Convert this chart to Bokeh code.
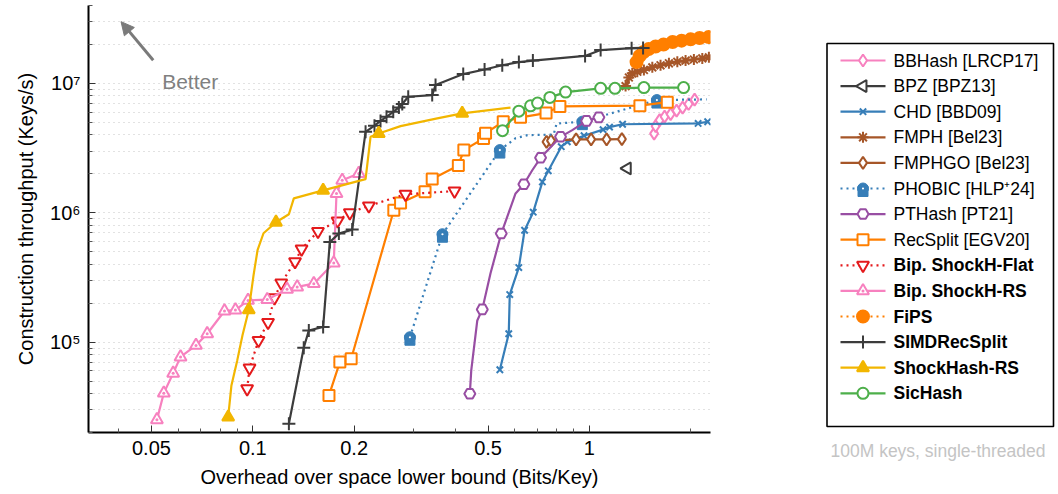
from bokeh.plotting import figure
from bokeh.models import (Range1d, FixedTicker, CustomJSTickFormatter, Arrow,
                          NormalHead, Label, Title)
from bokeh.layouts import row
from bokeh.embed import file_html
from bokeh.resources import INLINE
from bokeh.core.properties import value

FONT = "Liberation Sans"

# ---------------------------------------------------------------------------
# Overhead over space lower bound (bits/key) vs construction throughput (keys/s)
# ---------------------------------------------------------------------------
bbhash_x = [1.557, 1.573, 1.617, 1.673, 1.743, 1.816, 1.892, 1.971, 2.054]
bbhash_y = [4.09e6, 4.67e6, 5.2e6, 5.53e6, 5.79e6, 6.16e6, 6.5e6, 6.92e6, 7.49e6]

bpz_x = [1.296]
bpz_y = [2.2e6]

chd_x = [0.542, 0.576, 0.580, 0.617, 0.642, 0.681, 0.725, 0.755, 0.825, 0.860,
         0.964, 1.098, 1.148, 1.255, 2.104, 2.246]
chd_y = [6.11e4, 1.16e5, 2.33e5, 3.77e5, 7.32e5, 1.01e6, 1.73e6, 2.11e6, 3.24e6,
         3.53e6, 3.94e6, 4.39e6, 4.59e6, 4.83e6, 4.90e6, 5.05e6]

fmph_x = [1.281, 1.31, 1.341, 1.388, 1.452, 1.538, 1.627, 1.723, 1.825, 1.931,
          2.044, 2.165, 2.265]
fmph_y = [9.53e6, 1.11e7, 1.195e7, 1.23e7, 1.27e7, 1.33e7, 1.38e7, 1.43e7,
          1.47e7, 1.50e7, 1.53e7, 1.56e7, 1.59e7]

fmphgo_x = [0.746, 0.769, 0.913, 1.012, 1.125, 1.249]
fmphgo_y = [3.53e6, 3.61e6, 3.69e6, 3.69e6, 3.69e6, 3.71e6]

phobic_x = [0.293, 0.366, 0.542, 0.604, 0.655, 0.783, 0.799, 0.953, 1.353, 1.587, 2.23]
phobic_y = [1.09e5, 6.82e5, 3.05e6, 3.77e6, 3.98e6, 4.02e6, 4.89e6, 5.06e6,
            6.59e6, 7.43e6, 7.52e6]
phobic_marked = [0, 1, 2, 7, 9]

pthash_x = [0.4414, 0.4457, 0.4645, 0.4806, 0.5085, 0.5472, 0.570, 0.6035,
            0.6388, 0.6766, 0.7161, 0.8209, 0.8896, 0.981, 1.067]
pthash_y = [3.99e4, 6.04e4, 1.47e5, 1.79e5, 3.4e5, 6.9e5, 9.28e5, 1.41e6,
            1.66e6, 2.13e6, 2.66e6, 3.86e6, 4.35e6, 5.13e6, 5.46e6]
pthash_marked = [0, 3, 5, 8, 10, 11, 13, 14]

recsplit_x = [0.1684, 0.1814, 0.196, 0.2624, 0.2748, 0.3249, 0.3412, 0.408,
              0.4237, 0.4848, 0.4915, 0.5547, 0.6245, 0.7435, 0.8173, 1.413, 1.704]
recsplit_y = [3.87e4, 7.0e4, 7.44e4, 1.046e6, 1.19e6, 1.45e6, 1.82e6, 2.32e6,
              3.05e6, 3.75e6, 4.12e6, 5.05e6, 5.46e6, 5.89e6, 6.64e6, 6.73e6, 7.16e6]

bip_flat_x = [0.0962, 0.0978, 0.104, 0.111, 0.116, 0.1215, 0.1335, 0.1396,
              0.1562, 0.1786, 0.1942, 0.2212, 0.2843, 0.3975]
bip_flat_y = [4.36e4, 6.31e4, 1.03e5, 1.42e5, 2.20e5, 2.86e5, 4.19e5, 5.24e5,
              7.17e5, 8.64e5, 1.0e6, 1.13e6, 1.39e6, 1.47e6]

bip_rs_x = [0.0519, 0.0544, 0.058, 0.061, 0.0678, 0.0732, 0.0824, 0.0888,
            0.0968, 0.1104, 0.1264, 0.1355, 0.1518, 0.174, 0.1773, 0.1844, 0.2065]
bip_rs_y = [2.51e4, 4.03e4, 5.75e4, 7.68e4, 9.43e4, 1.16e5, 1.74e5, 1.77e5,
            2.10e5, 2.13e5, 2.56e5, 2.67e5, 2.83e5, 4.09e5, 1.41e6, 1.78e6, 2.01e6]

fips_x = [1.381, 1.410, 1.449, 1.50, 1.573, 1.661, 1.767, 1.879, 1.999, 2.126, 2.261]
fips_y = [1.46e7, 1.63e7, 1.75e7, 1.84e7, 1.93e7, 2.0e7, 2.09e7, 2.14e7,
          2.19e7, 2.24e7, 2.28e7]

simd_x = [0.128, 0.1417, 0.1467, 0.1618, 0.1694, 0.1802, 0.1974, 0.2163, 0.2299,
          0.2396, 0.2496, 0.2614, 0.2716, 0.278, 0.2896, 0.3412, 0.3491, 0.4219,
          0.4882, 0.551, 0.6173, 0.6794, 0.971, 1.08, 1.335, 1.444]
simd_y = [2.34e4, 9.05e4, 1.23e5, 1.31e5, 5.94e5, 6.9e5, 7.41e5, 4.22e6, 4.71e6,
          5.13e6, 5.51e6, 6.03e6, 6.52e6, 6.92e6, 7.88e6, 8.12e6, 9.7e6, 1.18e7,
          1.28e7, 1.38e7, 1.46e7, 1.50e7, 1.63e7, 1.81e7, 1.87e7, 1.88e7]

shockhash_rs_x = [0.0845, 0.0864, 0.0899, 0.0932, 0.0973, 0.1005, 0.1033, 0.1076,
                  0.1172, 0.128, 0.1324, 0.1618, 0.2163, 0.2238, 0.2367, 0.2748,
                  0.3532, 0.419, 0.583]
shockhash_rs_y = [2.63e4, 4.62e4, 7.22e4, 1.13e5, 1.78e5, 3.28e5, 5.13e5, 6.94e5,
                  8.44e5, 9.73e5, 1.29e6, 1.49e6, 1.82e6, 3.86e6, 4.10e6, 4.67e6,
                  5.36e6, 5.86e6, 6.5e6]
shockhash_rs_marked = [0, 4, 8, 11, 14, 17]

sichash_x = [0.552, 0.6173, 0.6687, 0.7016, 0.7633, 0.8498, 1.08, 1.191, 1.452, 1.905]
sichash_y = [4.31e6, 6.1e6, 6.71e6, 7.04e6, 7.79e6, 8.56e6, 9.15e6, 9.15e6, 9.28e6, 9.28e6]

x_ticks = [0.05, 0.1, 0.2, 0.5, 1]
x_minor = [0.04, 0.06, 0.07, 0.08, 0.09, 0.3, 0.4, 0.6, 0.7, 0.8, 0.9, 2]
y_ticks = [1e5, 1e6, 1e7]
y_minor = [m * 10 ** k for k in (4, 5, 6) for m in range(2, 10) if m * 10 ** k > 1.5e4] + [2e7, 3e7, 4e7]

# colours
PINK = "#f781bf"
GREY = "#3c3c3c"
BLUE = "#377eb8"
BROWN = "#a65628"
PURPLE = "#984ea3"
ORANGE = "#ff7f00"
RED = "#e41a1c"
GOLD = "#f2b600"
GREEN = "#4daf4a"

# series style table: label, colour, marker, dash, size, fill, bold, angle
styles = {
    "bbhash":   ("BBHash [LRCP17]", PINK, "diamond", "solid", 12, "white", False, 0.0),
    "bpz":      ("BPZ [BPZ13]", GREY, "triangle", "solid", 12, "white", False, 1.5708),
    "chd":      ("CHD [BBD09]", BLUE, "x", "solid", 9, "white", False, 0.0),
    "fmph":     ("FMPH [Bel23]", BROWN, "asterisk", "solid", 11, "white", False, 0.0),
    "fmphgo":   ("FMPHGO [Bel23]", BROWN, "diamond", "solid", 12, "white", False, 0.0),
    "phobic":   ("PHOBIC [HLP\u207a24]", BLUE, "ghost", "dotted", 11, BLUE, False, 0.0),
    "pthash":   ("PTHash [PT21]", PURPLE, "hex", "solid", 11, "white", False, 0.0),
    "recsplit": ("RecSplit [EGV20]", ORANGE, "square", "solid", 11, "white", False, 0.0),
    "bipflat":  ("Bip. ShockH-Flat", RED, "inverted_triangle", "dotted", 12, "white", True, 0.0),
    "biprs":    ("Bip. ShockH-RS", PINK, "triangle_dot", "solid", 12, "white", True, 0.0),
    "fips":     ("FiPS", ORANGE, "circle", "dotted", 12, ORANGE, True, 0.0),
    "simd":     ("SIMDRecSplit", GREY, "cross", "solid", 13, "white", True, 0.0),
    "shrs":     ("ShockHash-RS", GOLD, "triangle", "solid", 12, GOLD, True, 0.0),
    "sichash":  ("SicHash", GREEN, "circle", "solid", 11, "white", True, 0.0),
}

series = [
    ("bbhash", bbhash_x, bbhash_y, None),
    ("bpz", bpz_x, bpz_y, None),
    ("chd", chd_x, chd_y, None),
    ("fmph", fmph_x, fmph_y, None),
    ("fmphgo", fmphgo_x, fmphgo_y, None),
    ("phobic", phobic_x, phobic_y, phobic_marked),
    ("pthash", pthash_x, pthash_y, pthash_marked),
    ("recsplit", recsplit_x, recsplit_y, None),
    ("bipflat", bip_flat_x, bip_flat_y, None),
    ("biprs", bip_rs_x, bip_rs_y, None),
    ("fips", fips_x, fips_y, None),
    ("simd", simd_x, simd_y, None),
    ("shrs", shockhash_rs_x, shockhash_rs_y, shockhash_rs_marked),
    ("sichash", sichash_x, sichash_y, None),
]

# page geometry shared by both panels
TOP, BOTTOM = 5, 62
HEIGHT = 494
Y_DECADE_PX = 129.2   # pixels per decade on the throughput axis


def draw_marker(fig, xs, ys, marker, size, color, fill, angle, log_y):
    """Scatter markers; 'ghost' is built from a dome (circle) over a body (square)."""
    if marker == "ghost":
        shift = 3.0
        if log_y:
            body_y = [y * 10 ** (-shift / Y_DECADE_PX) for y in ys]
        else:
            body_y = [y + shift for y in ys]
        fig.scatter(xs, ys, marker="circle", size=size, line_color=color,
                    fill_color=color, line_width=1)
        fig.scatter(xs, body_y, marker="square", size=size - 1, line_color=color,
                    fill_color=color, line_width=1)
        fig.scatter(xs, ys, marker="dot", size=size * 0.8, line_color="white",
                    fill_color="white")
    else:
        fig.scatter(xs, ys, marker=marker, size=size, line_color=color,
                    fill_color=fill, line_width=2, angle=angle)


# ---------------------------------------------------------------------------
# main plot
# ---------------------------------------------------------------------------
p = figure(width=740, height=HEIGHT, x_axis_type="log", y_axis_type="log",
           x_range=Range1d(0.0325, 2.29), y_range=Range1d(2e4, 4e7),
           output_backend="svg", toolbar_location=None,
           min_border_left=88, min_border_right=30, min_border_top=TOP,
           min_border_bottom=BOTTOM)
p.outline_line_color = None
p.background_fill_color = "white"
p.border_fill_color = "white"

p.xaxis.ticker = FixedTicker(ticks=x_ticks, minor_ticks=x_minor)
p.yaxis.ticker = FixedTicker(ticks=y_ticks, minor_ticks=y_minor)
p.xaxis.formatter = CustomJSTickFormatter(code="return String(tick);")
p.yaxis.formatter = CustomJSTickFormatter(code="""
const sup = ["\\u2070", "\\u00b9", "\\u00b2", "\\u00b3", "\\u2074",
             "\\u2075", "\\u2076", "\\u2077", "\\u2078", "\\u2079"];
const e = Math.round(Math.log10(tick));
return "10" + String(e).split("").map(c => sup[+c]).join("");
""")

p.xgrid.grid_line_color = None
p.ygrid.grid_line_color = "#c4c4c4"
p.ygrid.grid_line_dash = "1 4"
p.ygrid.minor_grid_line_color = "#c4c4c4"
p.ygrid.minor_grid_line_dash = "1 4"

for ax in (p.xaxis[0], p.yaxis[0]):
    ax.axis_line_width = 2
    ax.axis_line_color = "black"
    ax.major_tick_in = 7
    ax.major_tick_out = 0
    ax.minor_tick_in = 4
    ax.minor_tick_out = 0
    ax.major_tick_line_color = "#333333"
    ax.minor_tick_line_color = "#555555"
    ax.major_label_text_font = FONT
    ax.major_label_text_font_size = "20px"
    ax.major_label_text_color = "black"
    ax.axis_label_text_font = FONT
    ax.axis_label_text_font_size = "20px"
    ax.axis_label_text_font_style = "normal"
    ax.axis_label_text_color = "black"

p.xaxis.axis_label = "Overhead over space lower bound (Bits/Key)"
p.yaxis.axis_label = "Construction throughput (Keys/s)"
p.xaxis.major_label_standoff = 8
p.xaxis.axis_label_standoff = 8
p.yaxis.major_label_standoff = 8
p.yaxis.axis_label_standoff = 10

for key, xs, ys, marked in series:
    label, color, marker, dash, size, fill, bold, angle = styles[key]
    if len(xs) > 1:
        p.line(xs, ys, line_color=color, line_width=2.2, line_dash=dash)
    idx = range(len(xs)) if marked is None else marked
    draw_marker(p, [xs[i] for i in idx], [ys[i] for i in idx], marker, size,
                color, fill, angle, log_y=True)

# "Better" hint
p.add_layout(Arrow(end=NormalHead(size=13, fill_color="#7a7a7a", line_color="#7a7a7a"),
                   x_start=0.0506, y_start=1.51e7, x_end=0.0406, y_end=3.0e7,
                   line_color="#7a7a7a", line_width=3))
p.add_layout(Label(x=0.0538, y=1.04e7, text="Better", text_font=FONT,
                   text_font_size="21px", text_color="#808080",
                   text_baseline="alphabetic"))

# ---------------------------------------------------------------------------
# legend panel (coordinates are page pixels relative to the panel's left edge)
# ---------------------------------------------------------------------------
lg = figure(width=318, height=HEIGHT, x_range=Range1d(0, 318),
            y_range=Range1d(HEIGHT - BOTTOM, TOP),
            output_backend="svg", toolbar_location=None,
            min_border_left=0, min_border_right=0,
            min_border_top=TOP, min_border_bottom=BOTTOM,
            x_axis_location=None, y_axis_location=None)
lg.grid.visible = False
lg.outline_line_color = None
lg.background_fill_color = "white"
lg.border_fill_color = "white"

lg.quad(left=[86.5], right=[313], top=[43], bottom=[426], fill_color="white",
        line_color="black", line_width=1.6)

row_y0, row_dy = 60.0, 25.6
for i, (key, xs, ys, marked) in enumerate(series):
    label, color, marker, dash, size, fill, bold, angle = styles[key]
    yy = row_y0 + i * row_dy
    lg.line([100, 145], [yy, yy], line_color=color, line_width=2.2, line_dash=dash)
    draw_marker(lg, [122.5], [yy], marker, size, color, fill, angle, log_y=False)
    lg.text([153], [yy], text=[label], text_font=value(FONT), text_font_size="17.5px",
            text_baseline="middle", text_color="black",
            text_font_style="bold" if bold else "normal")

lg.add_layout(Title(text="100M keys, single-threaded", align="left", offset=90,
                    text_font=FONT, text_font_size="17.5px",
                    text_font_style="normal", text_color="#c4c4c4",
                    standoff=12), "below")

layout = row(p, lg)
with open("out.html", "w", encoding="utf-8") as f:
    f.write(file_html(layout, INLINE))
